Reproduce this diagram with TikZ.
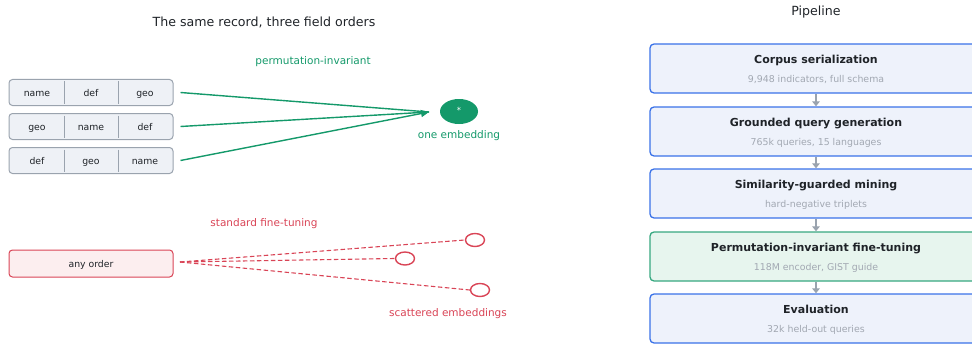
\documentclass[tikz,border=0pt]{standalone}
\usepackage{fontspec}
\setmainfont{DejaVu Sans}
\usetikzlibrary{arrows.meta,shapes.geometric}
\definecolor{ink}{HTML}{1F2328}
\definecolor{grn}{HTML}{14996A}
\definecolor{red}{HTML}{D94456}
\definecolor{recfill}{HTML}{EEF1F6}
\definecolor{recdraw}{HTML}{9AA3AE}
\definecolor{redfill}{HTML}{FCEEEF}
\definecolor{bluedraw}{HTML}{3A72E8}
\definecolor{bluefill}{HTML}{EEF2FB}
\definecolor{grnfill}{HTML}{E7F5EE}
\definecolor{subgray}{HTML}{A2A8B2}
\definecolor{arrgray}{HTML}{9AA3AE}
\tikzset{
  txt/.style={text height=0.75em, text depth=0.22em, inner sep=0pt, yshift=-1.6pt},
  rec/.style={draw=recdraw, fill=recfill, rounded corners=3.5pt, line width=1pt, minimum width=164pt, minimum height=26pt, inner sep=0pt},
  fld/.style={txt, font=\fontsize{9.3}{11}\selectfont, text=ink},
  anyrec/.style={draw=red, fill=redfill, rounded corners=3.5pt, line width=1pt, minimum width=164pt, minimum height=27pt, inner sep=0pt},
  pbox/.style={draw=bluedraw, fill=bluefill, rounded corners=4pt, line width=1.3pt, minimum width=332pt, minimum height=49pt, inner sep=0pt},
  gbox/.style={pbox, draw=grn!85, fill=grnfill},
  ptitle/.style={txt, font=\bfseries\fontsize{11}{13}\selectfont, text=ink},
  psub/.style={txt, font=\fontsize{9.4}{11}\selectfont, text=subgray},
  garr/.style={draw=grn, line width=1.4pt},
  rdash/.style={draw=red, line width=1.1pt, dash pattern=on 4.5pt off 2.5pt},
  parr/.style={draw=arrgray, line width=1.8pt, -{Triangle[length=5pt,width=7.5pt]}},
  lbl/.style={txt, font=\fontsize{10.5}{12}\selectfont},
  hollow/.style={ellipse, draw=red, line width=1.4pt, minimum width=19pt, minimum height=13pt, inner sep=0pt},
}
\begin{document}
\begin{tikzpicture}[x=1pt,y=-1pt]
\useasboundingbox (0,0) rectangle (972,345);
\clip (0,0) rectangle (972,345);

\node[txt, font=\fontsize{12.6}{15}\selectfont, text=ink] (title) at (264,22) {The same record, three field orders};
\node[txt, font=\fontsize{12.6}{15}\selectfont, text=ink, yshift=0.8pt] (ptitle) at (816,12) {Pipeline};

% record boxes
\foreach \r/\y/\a/\b/\c in {r1/92.5/name/def/geo, r2/126.5/geo/name/def, r3/160.5/def/geo/name}{
  \node[rec] (\r) at (91,\y) {};
  \draw[recdraw, line width=1pt] (64,\y-11) -- (64,\y+11);
  \draw[recdraw, line width=1pt] (118,\y-11) -- (118,\y+11);
  \node[fld] (\r a) at (37,\y) {\a};
  \node[fld] (\r b) at (91,\y) {\b};
  \node[fld] (\r c) at (145,\y) {\c};
}

\node[lbl, text=grn] (pilbl) at (313,60) {permutation-invariant};
\node[ellipse, fill=grn, minimum width=38pt, minimum height=25pt, inner sep=0pt] (emb) at (459,111.5) {};
\node[text=white, font=\fontsize{8.5}{9}\selectfont] (star) at (459,110.5) {*};
\node[lbl, text=grn, yshift=1pt] (onelbl) at (459,135) {one embedding};
\coordinate (tip) at (429,112);
\draw[garr] ([xshift=7pt]r1.east) -- (tip);
\draw[garr] ([xshift=7pt]r2.east) -- (tip);
\draw[garr, -{Triangle[length=8pt,width=7pt]}] ([xshift=7pt]r3.east) -- (tip);

% standard fine-tuning
\node[lbl, text=red] (sflbl) at (264,222) {standard fine-tuning};
\node[anyrec] (any) at (91,263.5) {};
\node[fld] (anytxt) at (91,263.5) {any order};
\node[hollow] (c1) at (475,240) {};
\node[hollow] (c2) at (405,258.5) {};
\node[hollow] (c3) at (480,290) {};
\coordinate (src) at (180,262);
\draw[rdash] (src) -- (c1.west);
\draw[rdash] (src) -- (c2.west);
\draw[rdash] (src) -- (c3.west);
\node[lbl, text=red] (scat) at (448,312) {scattered embeddings};

% pipeline
\node[pbox] (p1) at (816,68.5) {};
\node[ptitle] at (816,59) {Corpus serialization};
\node[psub] at (816,78) {9,948 indicators, full schema};
\node[pbox] (p2) at (816,131.5) {};
\node[ptitle] at (816,122) {Grounded query generation};
\node[psub] at (816,141) {765k queries, 15 languages};
\node[pbox] (p3) at (816,193.5) {};
\node[ptitle] at (816,184) {Similarity-guarded mining};
\node[psub] at (816,203) {hard-negative triplets};
\node[gbox] (p4) at (816,256.5) {};
\node[ptitle] at (816,247) {Permutation-invariant fine-tuning};
\node[psub] at (816,266) {118M encoder, GIST guide};
\node[pbox] (p5) at (816,318.5) {};
\node[ptitle] at (816,309) {Evaluation};
\node[psub] at (816,328) {32k held-out queries};

\draw[parr] (p1.south) -- (p2.north);
\draw[parr] (p2.south) -- (p3.north);
\draw[parr] (p3.south) -- (p4.north);
\draw[parr] (p4.south) -- (p5.north);
\end{tikzpicture}
\end{document}
